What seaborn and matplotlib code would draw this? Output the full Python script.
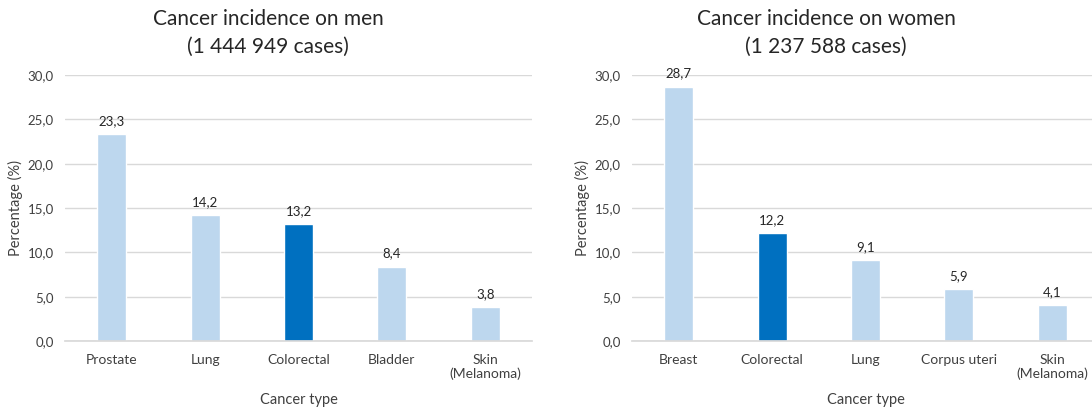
import matplotlib
matplotlib.use("Agg")
import matplotlib.pyplot as plt
import seaborn as sns
import pandas as pd

men_types = ["Prostate", "Lung", "Colorectal", "Bladder", "Skin\n(Melanoma)"]
men_values = [23.3, 14.2, 13.2, 8.4, 3.8]
women_types = ["Breast", "Colorectal", "Lung", "Corpus uteri", "Skin\n(Melanoma)"]
women_values = [28.7, 12.2, 9.1, 5.9, 4.1]
men_title = "Cancer incidence on men\n(1 444 949 cases)"
women_title = "Cancer incidence on women\n(1 237 588 cases)"
y_ticks = [0, 5, 10, 15, 20, 25, 30]

LIGHT = "#BDD7EE"
DARK = "#0070C0"
TXT = "#404040"
GRID = "#D9D9D9"

sns.set_theme(style="white")
plt.rcParams['font.family'] = ['Lato', 'DejaVu Sans']

fig = plt.figure(figsize=(10.92, 4.07), dpi=100)
ax1 = fig.add_axes([65/1092, 66/407, 467/1092, 266/407])
ax2 = fig.add_axes([632/1092, 66/407, 467/1092, 266/407])

def draw(ax, types, values, title, title_x):
    df = pd.DataFrame({"type": types, "value": values})
    pal = {t: (DARK if t == "Colorectal" else LIGHT) for t in types}
    sns.barplot(data=df, x="type", y="value", hue="type", palette=pal,
                legend=False, width=0.31, ax=ax, saturation=1)
    ax.set_ylim(0, 30)
    ax.set_xlim(-0.5, len(types) - 0.5)
    ax.set_yticks(y_ticks)
    ax.set_yticklabels([f"{v:.1f}".replace(".", ",") for v in y_ticks],
                       fontsize=9.5, color=TXT)
    ax.yaxis.grid(True, color=GRID, linewidth=1)
    ax.set_axisbelow(True)
    for s in ["top", "right", "left"]:
        ax.spines[s].set_visible(False)
    ax.spines["bottom"].set_color(GRID)
    ax.tick_params(axis="both", length=0)
    ax.tick_params(axis="y", pad=8)
    ax.tick_params(axis="x", pad=9, labelsize=10, labelcolor=TXT)
    for i, v in enumerate(values):
        ax.annotate(f"{v:.1f}".replace(".", ","), (i, v), xytext=(0, 5),
                    textcoords="offset points", ha="center", va="bottom",
                    fontsize=9.5, color="#262626")
    ax.set_xlabel("Cancer type", fontsize=10.5, color=TXT, labelpad=9)
    ax.set_ylabel("Percentage (%)", fontsize=10.5, color=TXT, labelpad=3)
    fig.text(title_x / 1092, 1 - 33 / 407, title, ha="center", va="center",
             fontsize=15, color="#262626", linespacing=1.45)

draw(ax1, men_types, men_values, men_title, 268)
draw(ax2, women_types, women_values, women_title, 826)

fig.savefig("out.png", dpi=100, facecolor="white")
